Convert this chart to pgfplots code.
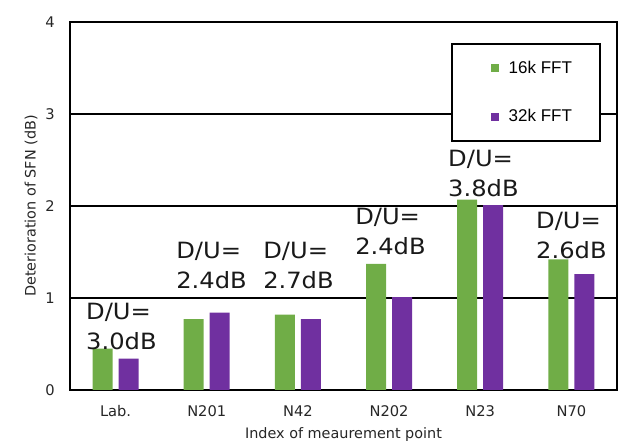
\documentclass[border=0pt]{standalone}
\usepackage{fontspec}
\setmainfont{DejaVu Sans}
\newfontfamily\legfont{Liberation Sans}
\newfontfamily\annfam[FakeStretch=1.08]{DejaVu Sans}
\usepackage{pgfplots}
\pgfplotsset{compat=1.18}
\definecolor{cgreen}{HTML}{70AD47}
\definecolor{cpurple}{HTML}{7030A0}
\newcommand\annfont{\annfam\fontsize{16.8}{22.5}\selectfont}
\begin{document}
\begin{tikzpicture}
\path[use as bounding box] (-52.5pt,-42pt) rectangle (427.5pt,292.5pt);
\begin{axis}[
  at={(0,0)}, anchor=south west,
  width=410.25pt, height=276pt, scale only axis,
  xmin=-0.5, xmax=5.5, ymin=0, ymax=4,
  xtick={0,1,2,3,4,5},
  xticklabels={Lab.,N201,N42,N202,N23,N70},
  ytick={0,1,2,3,4},
  major tick length=0pt,
  ymajorgrids,
  major grid style={black, line width=1.1pt},
  axis line style={black, line width=1.5pt},
  /pgf/number format/assume math mode=true,
  tick label style={font=\fontsize{11}{12}\selectfont, text=black!85},
  yticklabel style={anchor=center, xshift=-15pt},
  xticklabel style={anchor=center, yshift=-15.75pt},
  xlabel={Index of meaurement point},
  ylabel={Deterioration of SFN (dB)},
  label style={font=\fontsize{10.8}{12}\selectfont, text=black!85},
  xlabel style={at={(axis description cs:0.5,-0.1223)}, anchor=center},
  ylabel style={at={(axis description cs:-0.0713,0.5)}, anchor=center},
  legend style={at={(0.6965,0.943)}, anchor=north west, draw=black, line width=1.2pt,
    fill=white, font=\legfont\fontsize{12.75}{15}\selectfont,
    minimum width=111pt, minimum height=72.75pt, row sep=21.75pt,
    nodes={line width=0.4pt, minimum width=0pt, minimum height=0pt}},
  legend cell align=left,
  legend image code/.code={\path (-10.5pt,0pt) (11.25pt,0pt); \fill[#1, draw=none] (0pt,-3pt) rectangle (6pt,3pt);},
]
\addplot[ybar, bar width=15pt, bar shift=-9.75pt, fill=cgreen, draw=none]
  coordinates {(0,0.45)(1,0.77)(2,0.82)(3,1.37)(4,2.07)(5,1.42)};
\addplot[ybar, bar width=15pt, bar shift=9.75pt, fill=cpurple, draw=none]
  coordinates {(0,0.34)(1,0.84)(2,0.77)(3,1.01)(4,2.01)(5,1.26)};
\legend{16k FFT, 32k FFT}
\node[anchor=north west, inner sep=0, align=left, font=\annfont, text=black!90] at (axis cs:-0.325,0.946) {D/U=\\3.0dB};
\node[anchor=north west, inner sep=0, align=left, font=\annfont, text=black!90] at (axis cs:0.663,1.609) {D/U=\\2.4dB};
\node[anchor=north west, inner sep=0, align=left, font=\annfont, text=black!90] at (axis cs:1.617,1.609) {D/U=\\2.7dB};
\node[anchor=north west, inner sep=0, align=left, font=\annfont, text=black!90] at (axis cs:2.626,1.978) {D/U=\\2.4dB};
\node[anchor=north west, inner sep=0, align=left, font=\annfont, text=black!90] at (axis cs:3.646,2.609) {D/U=\\3.8dB};
\node[anchor=north west, inner sep=0, align=left, font=\annfont, text=black!90] at (axis cs:4.611,1.935) {D/U=\\2.6dB};
\end{axis}
\end{tikzpicture}
\end{document}
